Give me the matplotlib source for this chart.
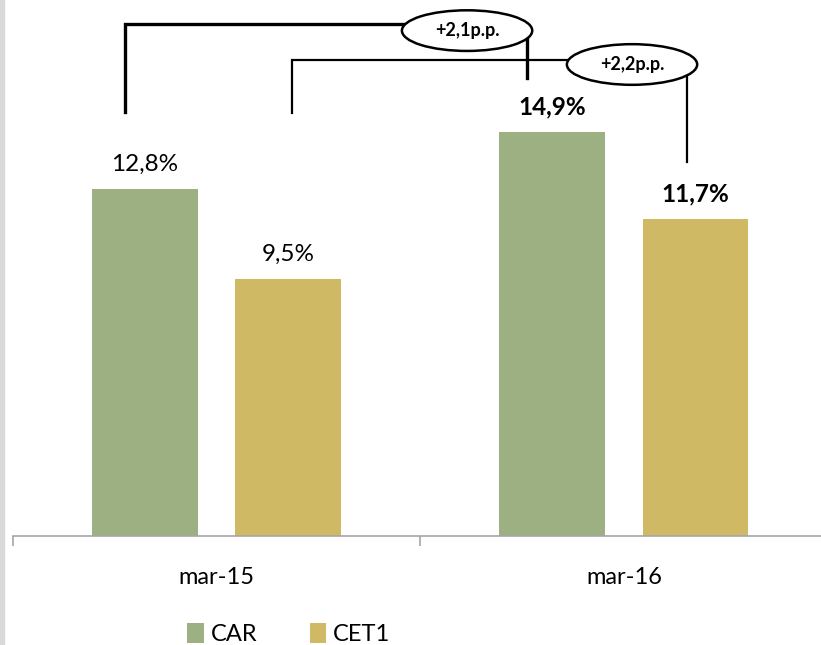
import matplotlib
matplotlib.use("Agg")
import matplotlib.pyplot as plt
import numpy as np
from matplotlib.patches import Ellipse, Rectangle

periods = ["mar-15", "mar-16"]
car = [12.8, 14.9]
cet1 = [9.5, 11.7]
car_labels = ["12,8%", "14,9%"]
cet1_labels = ["9,5%", "11,7%"]
delta_labels = ["+2,1p.p.", "+2,2p.p."]

green = "#9DB082"
gold = "#CFB965"
plt.rcParams["font.family"] = ["Lato", "DejaVu Sans"]

fig = plt.figure(figsize=(8.21, 6.45), dpi=100)
# the plot area runs a little past the right edge of the picture
ax = fig.add_axes([13 / 821, 1 - 536 / 645, 814.5 / 821, 536 / 645])
fig.patches.append(Rectangle((0, 0), 4 / 821, 1, transform=fig.transFigure,
                             color="#D9D9D9", zorder=0))

x = np.arange(len(periods))
w = 0.26
off = 0.176
b1 = ax.bar(x - off, car, w, color=green, label="CAR", zorder=2)
b2 = ax.bar(x + off, cet1, w, color=gold, label="CET1", zorder=2)

ax.set_xlim(-0.5, 1.5)
ax.set_ylim(0, 19.78)

for i in range(len(periods)):
    wt = "normal" if i == 0 else "bold"
    ax.annotate(car_labels[i], (x[i] - off, car[i]), xytext=(0, 10),
                textcoords="offset points", ha="center", va="bottom",
                fontsize=17.5, fontweight=wt)
    ax.annotate(cet1_labels[i], (x[i] + off, cet1[i]), xytext=(0, 10),
                textcoords="offset points", ha="center", va="bottom",
                fontsize=17.5, fontweight=wt)

# change brackets
brackets = [
    # left x, left bottom, top, right x, right bottom, ellipse x, ellipse y, lw
    (x[0] - off - 0.05, 15.65, 18.9, x[1] - off - 0.062, 16.9, 0.615, 18.65, 2.4),
    (x[0] + off + 0.01, 15.6, 17.56, x[1] + off - 0.02, 13.8, 1.02, 17.4, 1.6),
]
for (lx, lb, top, rx, rb, ex, ey, lw), lab in zip(brackets, delta_labels):
    ax.plot([lx, lx, rx, rx], [lb, top, top, rb], color="black", lw=lw,
            solid_joinstyle="miter", zorder=3)
    ax.add_patch(Ellipse((ex, ey), 0.32, 1.5, facecolor="white",
                         edgecolor="black", lw=1.8, zorder=4))
    ax.text(ex, ey, lab, ha="center", va="center", fontsize=13,
            fontweight="bold", zorder=5)

for s in ["left", "right", "top"]:
    ax.spines[s].set_visible(False)
ax.spines["bottom"].set_color("#A6A6A6")
ax.spines["bottom"].set_linewidth(1.2)
ax.set_yticks([])
ax.set_xticks(x)
ax.set_xticklabels(periods, fontsize=17)
ax.tick_params(axis="x", which="major", length=0, pad=22)
ax.set_xticks([-0.5, 0.5, 1.5], minor=True)
ax.tick_params(axis="x", which="minor", length=7, color="#A6A6A6", width=1.2)

fig.legend(handles=[b1, b2], labels=["CAR", "CET1"], loc="center",
           bbox_to_anchor=(289 / 821, 1 - 634 / 645), ncol=2, frameon=False,
           fontsize=17, handlelength=0.7, handleheight=0.9, handletextpad=0.3,
           columnspacing=2.2)

fig.savefig("out.png", dpi=100)
